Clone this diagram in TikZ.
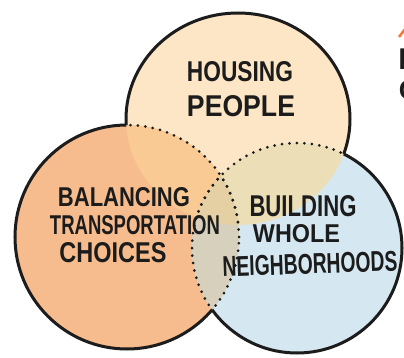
\documentclass[tikz,border=0pt]{standalone}
\usepackage{fontspec}
\setmainfont{Liberation Sans}
\definecolor{inkc}{HTML}{1C1C1C}
\definecolor{topc}{HTML}{FDE6C5}
\definecolor{leftc}{HTML}{F6BC8D}
\definecolor{rightc}{HTML}{D5E8F2}
\definecolor{tlc}{HTML}{F9CA93}
\definecolor{trc}{HTML}{ECDFB7}
\definecolor{lrc}{HTML}{D6D0BD}
\definecolor{tlrc}{HTML}{E4D0A3}
\definecolor{orangec}{HTML}{F07A3E}
\newcommand{\hw}[3]{\resizebox{#1pt}{#2pt}{\bfseries #3}}
\begin{document}
\begin{tikzpicture}[x=1pt,y=-1pt,
  outline/.style={draw=inkc, line width=3pt},
  dotline/.style={draw=inkc, line width=3pt, line cap=round, dash pattern=on 0pt off 7.5pt},
  hand/.style={inner sep=0pt, text=inkc},
  frag/.style={inner sep=0pt, anchor=base west, text=inkc}]
\useasboundingbox (0,0) rectangle (404,358);
\fill[white] (0,0) rectangle (404,358);
\coordinate (T) at (238,119);
\coordinate (L) at (127,237);
\coordinate (R) at (297,248);
\def\topshape{(T) ellipse [x radius=112pt, y radius=106pt]}
\def\leftshape{(L) circle [radius=112pt]}
\def\rightshape{(R) circle [radius=105pt]}
\def\bigrect{(-20,-20) rectangle (430,380)}
% base fills
\fill[topc] \topshape;
\fill[leftc] \leftshape;
\fill[rightc] \rightshape;
% pairwise overlaps
\begin{scope}\clip \leftshape; \fill[tlc] \topshape; \end{scope}
\begin{scope}\clip \rightshape; \fill[trc] \topshape; \end{scope}
\begin{scope}\clip \leftshape; \fill[lrc] \rightshape; \end{scope}
\begin{scope}\clip \leftshape; \clip \rightshape; \fill[tlrc] \topshape; \end{scope}
% dotted inner boundaries
\begin{scope}\clip \topshape; \draw[dotline] \leftshape; \end{scope}
\begin{scope}\clip \rightshape; \draw[dotline] \leftshape; \end{scope}
\begin{scope}\clip \topshape; \draw[dotline] \rightshape; \end{scope}
\begin{scope}\clip \leftshape; \draw[dotline] \rightshape; \end{scope}
% solid outer outlines
\begin{scope}[even odd rule]
  \clip \bigrect \leftshape;
  \begin{scope}[even odd rule]\clip \bigrect \rightshape; \draw[outline] \topshape; \end{scope}
\end{scope}
\begin{scope}[even odd rule]
  \clip \bigrect \topshape;
  \begin{scope}[even odd rule]\clip \bigrect \rightshape; \draw[outline] \leftshape; \end{scope}
\end{scope}
\begin{scope}[even odd rule]
  \clip \bigrect \topshape;
  \begin{scope}[even odd rule]\clip \bigrect \leftshape; \draw[outline] \rightshape; \end{scope}
\end{scope}
% labels
\node[hand] (housing) at (240,72) {\hw{106}{20}{HOUSING}};
\node[hand] (people) at (241,106) {\hw{108}{21}{PEOPLE}};
\node[hand] (balancing) at (124,197.5) {\hw{132}{19}{BALANCING}};
\node[hand] (transport) at (135,225) {\hw{170}{19}{TRANSPORTATION}};
\node[hand] (choices) at (113,252.5) {\hw{107}{20}{CHOICES}};
\node[hand] (building) at (303,206) {\hw{107}{21}{BUILDING}};
\node[hand] (whole) at (296.5,234) {\hw{87}{18}{WHOLE}};
\node[hand, rotate=2] (neigh) at (310,264) {\hw{175}{20}{NEIGHBORHOODS}};
% cut-off text at right edge
\draw[orangec, line width=2.5pt] (399,37) -- (405,29);
\node[frag, font=\bfseries\fontsize{30}{30}\selectfont] (fragI) at (398.1,70) {I};
\node[frag, font=\bfseries\fontsize{27}{27}\selectfont] (fragC) at (398.7,99.5) {C};
\end{tikzpicture}
\end{document}
